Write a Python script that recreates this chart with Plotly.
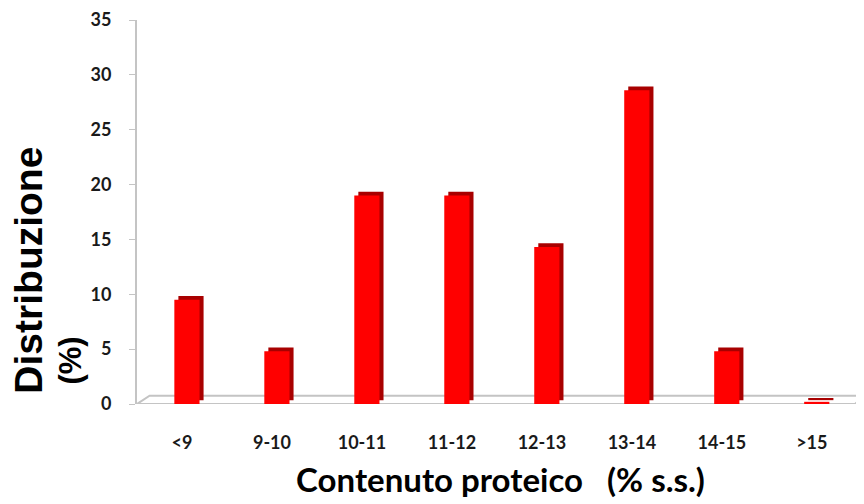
import plotly.graph_objects as go

categories = ["<9", "9-10", "10-11", "11-12", "12-13", "13-14", "14-15", ">15"]
values = [9.5, 4.8, 19.0, 19.0, 14.3, 28.6, 4.8, 0.2]
y_ticks = [0, 5, 10, 15, 20, 25, 30, 35]

x_idx = list(range(len(categories)))
depth = 0.35  # pseudo-3D depth in y units
shift = 0.055  # perspective shift of bars relative to labels

fig = go.Figure()
# side/top face (darker) to fake the 3D look
fig.add_trace(go.Bar(
    x=x_idx, y=values, base=[depth] * len(values),
    width=0.28, offset=-0.14 + shift + 0.045,
    marker=dict(color="#a80000", line=dict(width=0)),
    hoverinfo="skip", showlegend=False,
))
# front face
fig.add_trace(go.Bar(
    x=x_idx, y=values,
    width=0.28, offset=-0.14 + shift,
    marker=dict(color="#ff0000", line=dict(width=0)),
    showlegend=False,
))

# floor of the 3D chart
fig.add_shape(type="path",
              path="M -0.5,0 L 7.48,0 L 7.58,0.75 L -0.36,0.75 Z",
              xref="x", yref="y", line=dict(color="#c4c4c4", width=2),
              fillcolor="white", layer="below")

title_font = dict(family="Liberation Sans, Arial", color="black", weight="bold")
fig.add_annotation(
    text="Distribuzione",
    xref="paper", yref="paper", x=-0.1486, y=0.023,
    xanchor="center", yanchor="bottom",
    showarrow=False, textangle=-90,
    font=dict(size=39, **title_font),
)
fig.add_annotation(
    text="(%)",
    xref="paper", yref="paper", x=-0.091, y=0.045,
    xanchor="center", yanchor="bottom",
    showarrow=False, textangle=-90,
    font=dict(size=31, **title_font),
)

fig.update_layout(
    width=864, height=504,
    margin=dict(l=129, r=8, t=12, b=108),
    paper_bgcolor="white", plot_bgcolor="white",
    barmode="overlay",
    font=dict(family="Lato", color="#1a1a1a"),
    xaxis=dict(
        range=[-0.5, 7.58], automargin=False,
        tickmode="array", tickvals=x_idx, ticktext=categories,
        showline=False, showgrid=False, zeroline=False,
        ticks="", ticklabelstandoff=26,
        tickfont=dict(family="Lato", size=18, weight="bold", color="#1a1a1a"),
        title=dict(text="Contenuto proteico   (% s.s.)", standoff=16,
                   font=dict(family="Lato", size=33, weight="bold", color="black")),
    ),
    yaxis=dict(
        range=[0, 35], automargin=False,
        tickmode="array", tickvals=y_ticks,
        showline=True, linecolor="#c4c4c4", linewidth=2,
        ticks="outside", ticklen=6, tickcolor="#c4c4c4", tickwidth=1,
        showgrid=False, zeroline=False,
        ticklabelstandoff=14,
        tickfont=dict(family="Lato", size=18, weight="bold", color="#1a1a1a"),
    ),
)

fig.write_html("out.html")
